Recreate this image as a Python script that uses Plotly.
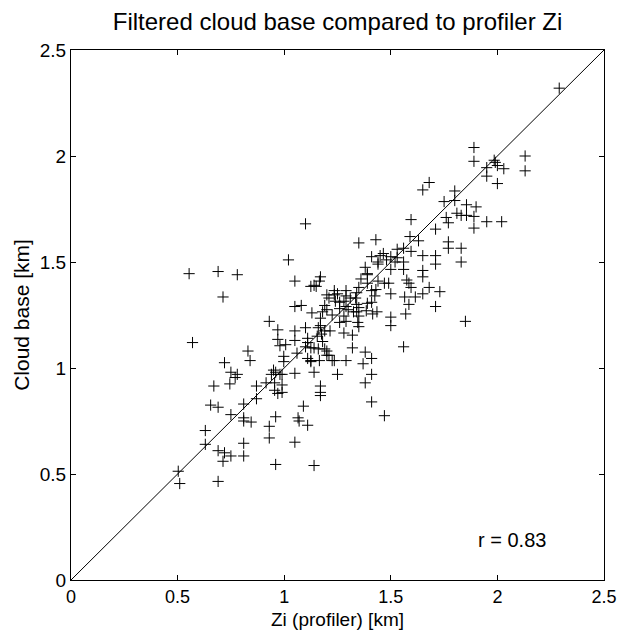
import plotly.graph_objects as go

# Boundary-layer depth from the wind profiler vs. filtered ceilometer cloud base (km)
zi_km = [
    2.29, 1.89, 1.89, 1.985, 1.99, 2.00, 2.13, 2.13, 2.03, 1.95, 1.95, 2.00,
    1.65, 1.68, 1.80, 1.75, 1.80, 1.855, 1.90, 1.81, 1.83, 1.855, 1.89, 1.89,
    1.95, 2.02, 1.76, 1.77, 1.71, 1.595, 1.59, 1.63, 1.77, 1.77, 1.83, 1.83,
    1.71, 1.71, 1.65, 1.65, 1.65, 1.595, 1.56, 1.53, 1.52, 1.56, 1.56, 1.585,
    1.595, 1.575, 1.68, 1.73, 1.615, 1.65, 1.565, 1.585, 1.71, 1.57, 1.85, 1.50,
    1.50, 1.56, 1.50, 1.49, 1.47, 1.44, 1.435, 1.43, 1.44, 1.41, 1.45, 1.465,
    1.48, 1.50, 1.53, 1.35, 1.38, 1.39, 1.39, 1.41, 1.425, 1.41, 1.39, 1.385,
    1.415, 1.35, 1.34, 1.335, 1.34, 1.35, 1.34, 1.35, 1.345, 1.35, 1.325, 1.29,
    1.29, 1.28, 1.29, 1.28, 1.29, 1.30, 1.25, 1.24, 1.235, 1.26, 1.26, 1.26,
    1.225, 1.20, 1.21, 1.19, 1.18, 1.215, 1.19, 1.175, 1.17, 1.165, 1.14, 1.125,
    1.15, 1.08, 1.05, 1.05, 1.02, 1.10, 1.13, 1.17, 1.17, 1.16, 1.155, 1.10,
    1.05, 1.11, 1.10, 1.125, 1.14, 1.16, 1.19, 1.20, 1.20, 1.235, 1.165, 1.125,
    1.11, 1.125, 1.14, 1.25, 1.29, 1.32, 1.28, 1.32, 1.38, 1.41, 1.37, 1.41,
    1.38, 1.41, 1.47, 1.06, 1.05, 0.998, 0.998, 1.007, 0.98, 0.97, 0.97, 1.05,
    0.93, 0.99, 0.98, 0.96, 0.95, 0.94, 0.915, 0.87, 0.955, 0.99, 0.955, 0.97,
    0.99, 0.87, 0.83, 0.84, 0.78, 0.77, 0.75, 0.745, 0.72, 0.67, 0.655, 0.69,
    0.81, 0.75, 0.81, 0.81, 0.845, 0.63, 0.63, 0.69, 0.72, 0.713, 0.75, 0.81,
    0.81, 0.69, 0.503, 0.51, 0.93, 0.93, 0.96, 0.96, 1.05, 1.065, 1.07, 1.11,
    1.09, 1.14, 1.17, 1.17, 1.17, 1.225, 1.21, 0.554, 0.69, 0.78, 0.713, 0.57,
    1.235, 1.20, 1.11, 1.18, 1.39, 1.44, 1.50, 1.36, 1.31, 1.43,
]
cloud_base_km = [
    2.32, 2.04, 1.975, 1.98, 1.97, 1.955, 2.00, 1.93, 1.94, 1.945, 1.905, 1.87,
    1.84, 1.875, 1.835, 1.785, 1.79, 1.77, 1.76, 1.73, 1.72, 1.72, 1.715, 1.66,
    1.69, 1.69, 1.71, 1.685, 1.655, 1.70, 1.62, 1.60, 1.595, 1.565, 1.565, 1.50,
    1.53, 1.49, 1.53, 1.46, 1.43, 1.55, 1.565, 1.56, 1.50, 1.50, 1.465, 1.40,
    1.38, 1.415, 1.38, 1.36, 1.335, 1.35, 1.335, 1.30, 1.29, 1.255, 1.22, 1.24,
    1.20, 1.10, 1.35, 1.40, 1.40, 1.41, 1.265, 1.605, 1.50, 1.525, 1.53, 1.54,
    1.51, 1.525, 1.52, 1.59, 1.475, 1.44, 1.40, 1.365, 1.34, 1.31, 1.305, 1.27,
    1.255, 1.38, 1.355, 1.33, 1.30, 1.285, 1.265, 1.245, 1.215, 1.195, 1.265, 1.365,
    1.34, 1.315, 1.29, 1.245, 1.22, 1.275, 1.35, 1.315, 1.345, 1.31, 1.28, 1.215,
    1.25, 1.345, 1.33, 1.295, 1.265, 1.175, 1.175, 1.16, 1.43, 1.41, 1.39, 1.385,
    1.385, 1.295, 1.29, 1.41, 1.51, 1.68, 1.26, 1.235, 1.20, 1.19, 1.15, 1.19,
    1.175, 1.12, 1.10, 1.095, 1.095, 1.09, 1.09, 1.08, 1.06, 1.035, 1.035, 1.035,
    1.045, 1.03, 0.98, 0.97, 1.035, 1.095, 1.165, 1.155, 1.075, 1.045, 1.02, 0.97,
    0.93, 0.84, 0.775, 1.07, 0.975, 1.055, 1.03, 1.11, 1.105, 1.135, 1.18, 1.13,
    1.22, 0.97, 0.97, 0.98, 0.99, 0.97, 0.93, 0.915, 0.93, 0.92, 0.895, 0.88,
    0.885, 0.855, 1.08, 1.035, 0.97, 0.955, 0.98, 0.925, 1.025, 0.915, 0.825, 0.815,
    0.83, 0.78, 0.765, 0.75, 0.745, 0.705, 0.64, 0.61, 0.60, 0.56, 0.585, 0.585,
    0.645, 0.465, 0.513, 0.455, 0.725, 0.67, 0.77, 0.545, 0.65, 0.765, 0.75, 0.73,
    0.82, 0.54, 0.915, 0.885, 0.87, 1.035, 1.06, 1.445, 1.455, 1.44, 1.335, 1.12,
    1.365, 1.275, 1.14, 1.125, 1.445, 1.49, 1.465, 1.42, 1.33, 1.37,
]
axis_limits = [0.0, 2.5]
tick_values = [0.0, 0.5, 1.0, 1.5, 2.0, 2.5]
tick_labels = ["0", "0.5", "1", "1.5", "2", "2.5"]
x_title = "Zi (profiler) [km]"
y_title = "Cloud base [km]"
correlation_label = "r = 0.83"

FONT = "Liberation Sans, Arial, Helvetica, sans-serif"

fig = go.Figure()

# 1:1 reference line
fig.add_trace(go.Scatter(
    x=axis_limits, y=axis_limits, mode="lines",
    line=dict(color="black", width=1), hoverinfo="skip", showlegend=False,
))

# individual matched samples
fig.add_trace(go.Scatter(
    x=zi_km, y=cloud_base_km, mode="markers",
    marker=dict(symbol="cross-thin", size=8, color="black",
                line=dict(color="black", width=1)),
    showlegend=False,
))

axis_style = dict(
    range=axis_limits, tickvals=tick_values, ticktext=tick_labels,
    ticks="inside", ticklen=5, tickcolor="black", tickwidth=1,
    showline=True, linecolor="black", linewidth=1, mirror="ticks",
    showgrid=False, zeroline=False, automargin=False,
    tickfont=dict(family=FONT, size=19, color="black"),
)

fig.update_layout(
    width=628, height=630,
    margin=dict(l=71, r=24, t=50, b=50),
    paper_bgcolor="white", plot_bgcolor="white",
    title=dict(text="Filtered cloud base compared to profiler Zi",
               x=0.5375, xanchor="center", y=0.965, yanchor="middle",
               font=dict(family=FONT, size=24, color="black")),
    xaxis=dict(axis_style, tickfont=dict(family=FONT, size=18, color="black")),
    yaxis=dict(axis_style,
               title=dict(text=y_title, standoff=4,
                          font=dict(family=FONT, size=21, color="black"))),
    annotations=[
        dict(x=2.07, y=0.19, xref="x", yref="y", text=correlation_label,
             showarrow=False, font=dict(family=FONT, size=20, color="black")),
        # x-axis title sits tight under the tick labels
        dict(x=0.5, y=-0.074, xref="paper", yref="paper", text=x_title,
             xanchor="center", yanchor="middle", showarrow=False,
             font=dict(family=FONT, size=19, color="black")),
    ],
)

fig.write_html("out.html")
